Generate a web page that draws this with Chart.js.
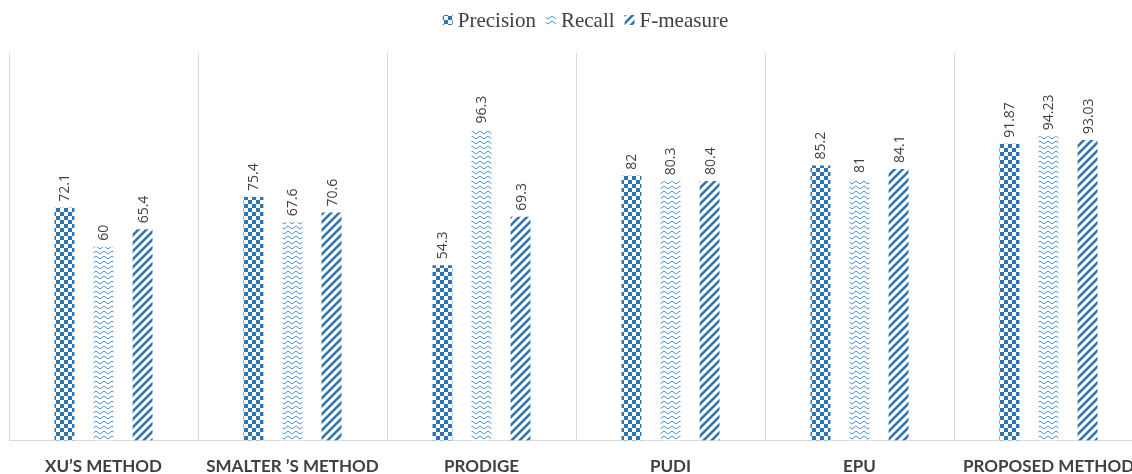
<!DOCTYPE html>
<html>
<head>
<meta charset="utf-8">
<script src="https://cdn.jsdelivr.net/npm/chart.js@4.4.1/dist/chart.umd.min.js"></script>
<style>
  html, body { margin: 0; padding: 0; overflow: hidden; background: #fff; }
  #wrap { width: 1132px; height: 474px; overflow: hidden; position: relative; }
  canvas { display: block; }
</style>
</head>
<body>
<div id="wrap"><canvas id="c" width="1171" height="493"></canvas></div>
<script>
// Methods compared
const categories = ["XU\u2019S METHOD", "SMALTER \u2019S METHOD", "PRODIGE", "PUDI", "EPU", "PROPOSED METHOD"];
// Scores (%) per method
const precision = [72.1, 75.4, 54.3, 82, 85.2, 91.87];
const recall    = [60, 67.6, 96.3, 80.3, 81, 94.23];
const fMeasure  = [65.4, 70.6, 69.3, 80.4, 84.1, 93.03];
const seriesNames = ["Precision", "Recall", "F-measure"];

const BLUE = "#2E75B6";
const LIGHT = "#4A90D9";

function tile(w, h, draw) {
  const c = document.createElement("canvas");
  c.width = w; c.height = h;
  const g = c.getContext("2d");
  draw(g, w, h);
  return g.createPattern(c, "repeat");
}

// Large checkerboard fill
const checker = tile(8, 8, (g) => {
  g.fillStyle = "#fff"; g.fillRect(0, 0, 8, 8);
  g.fillStyle = BLUE;
  g.fillRect(0, 0, 4, 4); g.fillRect(4, 4, 4, 4);
});

// Zigzag fill
const zigzag = tile(8, 5, (g) => {
  g.fillStyle = "#fff"; g.fillRect(0, 0, 8, 5);
  g.strokeStyle = LIGHT; g.lineWidth = 1;
  g.beginPath();
  g.moveTo(0, 1); g.lineTo(4, 4); g.lineTo(8, 1);
  g.stroke();
});

// Wide upward diagonal fill
const stripes = tile(8, 8, (g) => {
  g.fillStyle = "#fff"; g.fillRect(0, 0, 8, 8);
  g.strokeStyle = BLUE; g.lineWidth = 2.6;
  g.beginPath();
  for (let k = -2; k <= 2; k++) {
    g.moveTo(k * 8 - 1, 9); g.lineTo(k * 8 + 9, -1);
  }
  g.stroke();
});

// Rotated value labels above each bar
const barValueLabels = {
  id: "barValueLabels",
  afterDatasetsDraw(chart) {
    const ctx = chart.ctx;
    ctx.save();
    ctx.fillStyle = "#404040";
    ctx.font = "14px 'Open Sans', sans-serif";
    ctx.textAlign = "left";
    ctx.textBaseline = "middle";
    chart.data.datasets.forEach((ds, di) => {
      const meta = chart.getDatasetMeta(di);
      meta.data.forEach((el, i) => {
        ctx.save();
        ctx.translate(el.x + 1, el.y - 6);
        ctx.rotate(-Math.PI / 2);
        ctx.fillText(String(ds.data[i]), 0, 0);
        ctx.restore();
      });
    });
    ctx.restore();
  }
};

// Compact legend row centred above the plot
const topLegend = {
  id: "topLegend",
  afterDraw(chart) {
    const ctx = chart.ctx;
    const box = 10, gap = 5, spacing = 10, cy = 20;
    ctx.save();
    ctx.font = "21px 'Liberation Serif', serif";
    ctx.textBaseline = "middle";
    ctx.textAlign = "left";
    const items = chart.data.datasets.map(ds => ({
      label: ds.label, fill: ds.backgroundColor, w: ctx.measureText(ds.label).width
    }));
    const total = items.reduce((s, it) => s + box + gap + it.w, 0) + spacing * (items.length - 1);
    let x = chart.width / 2 - total / 2;
    items.forEach(it => {
      ctx.fillStyle = it.fill;
      ctx.fillRect(x, cy - box / 2, box, box);
      x += box + gap;
      ctx.fillStyle = "#404040";
      ctx.fillText(it.label, x, cy + 1);
      x += it.w + spacing;
    });
    ctx.restore();
  }
};

new Chart(document.getElementById("c"), {
  type: "bar",
  data: {
    labels: categories,
    datasets: [
      { label: seriesNames[0], data: precision, backgroundColor: checker },
      { label: seriesNames[1], data: recall, backgroundColor: zigzag },
      { label: seriesNames[2], data: fMeasure, backgroundColor: stripes }
    ]
  },
  options: {
    responsive: false,
    animation: false,
    events: [],
    categoryPercentage: 0.62,
    barPercentage: 0.51,
    layout: { padding: { left: 9, right: 28, top: 53, bottom: 0 } },
    plugins: {
      tooltip: { enabled: false },
      legend: { display: false }
    },
    scales: {
      x: {
        grid: { display: true, offset: true, color: "#D9D9D9", drawTicks: false },
        border: { display: true, color: "#D9D9D9" },
        ticks: {
          color: "#404040",
          padding: 16,
          font: { family: "Lato, sans-serif", size: 17, weight: "bold" },
          maxRotation: 0,
          autoSkip: false
        }
      },
      y: {
        display: false,
        min: 0,
        max: 120
      }
    }
  },
  plugins: [barValueLabels, topLegend]
});
</script>
</body>
</html>
